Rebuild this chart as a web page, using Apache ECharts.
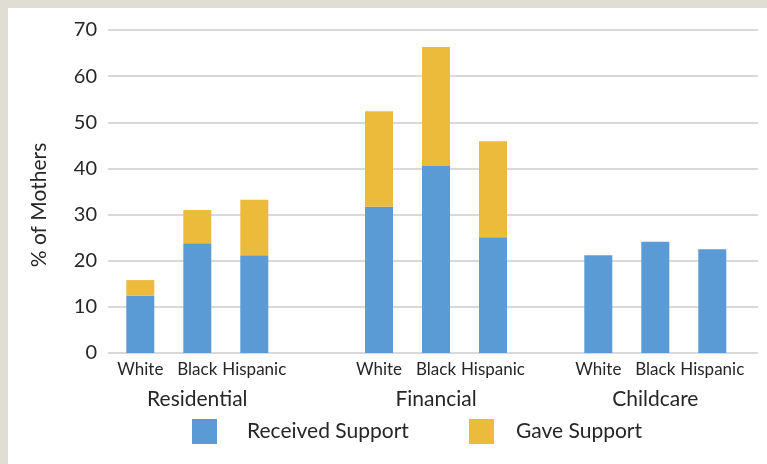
<!DOCTYPE html>
<html>
<head>
<meta charset="utf-8">
<title>Support by type</title>
<style>
  * { margin: 0; padding: 0; }
  body { background: #e0ddd3; width: 767px; height: 464px; overflow: hidden; }
  #main { position: absolute; left: 8px; top: 8px; width: 759px; height: 456px; background: #fff; }
</style>
</head>
<body>
<div id="main"></div>
<script src="https://cdn.jsdelivr.net/npm/echarts@6/dist/echarts.min.js"></script>
<script>
var races = ['White', 'Black', 'Hispanic'];
var groups = ['Residential', 'Financial', 'Childcare'];
// % of mothers, one row per group, in race order
var received = [
  [12.4, 23.8, 21.2],
  [31.7, 40.5, 25.1],
  [21.2, 24.1, 22.5]
];
var gave = [
  [3.4, 7.2, 12.0],
  [20.7, 25.8, 20.8],
  [null, null, null]
];
var yTicks = { min: 0, max: 70, interval: 10 };

var font = 'Lato, "Noto Sans", sans-serif';
var ink = '#262626';
var blue = '#5b9bd5';
var gold = '#edbb3b';

var chart = echarts.init(document.getElementById('main'));

// grid 0 only carries the value axis and its gridlines, grids 1..3 hold each group
var grids = [{ left: 100, top: 22, width: 650, height: 323 }];
var groupLefts = [103.8, 342.5, 561.8];
var xAxes = [{ gridIndex: 0, type: 'value', show: false, min: 0, max: 1 }];
var yAxes = [{
  gridIndex: 0, type: 'value', min: yTicks.min, max: yTicks.max, interval: yTicks.interval,
  axisLine: { show: false }, axisTick: { show: false },
  axisLabel: { fontSize: 20, color: ink, fontFamily: font, margin: 11 },
  splitLine: { lineStyle: { color: '#d9d9d9', width: 2 } }
}];
var series = [];

groups.forEach(function (g, i) {
  grids.push({ left: groupLefts[i], top: 22, width: 171, height: 323 });
  xAxes.push({
    gridIndex: i + 1, type: 'category', data: races,
    axisLine: { show: false }, axisTick: { show: false },
    axisLabel: { fontSize: 17, color: ink, fontFamily: font, margin: 8, interval: 0 },
    name: g, nameLocation: 'middle', nameGap: 36,
    nameTextStyle: { fontSize: 21, color: ink, fontFamily: font }
  });
  yAxes.push({ gridIndex: i + 1, type: 'value', min: yTicks.min, max: yTicks.max, show: false });
  series.push({
    name: 'Received Support', type: 'bar', stack: 's' + i, barWidth: 28,
    xAxisIndex: i + 1, yAxisIndex: i + 1, data: received[i],
    itemStyle: { color: blue }
  });
  series.push({
    name: 'Gave Support', type: 'bar', stack: 's' + i, barWidth: 28,
    xAxisIndex: i + 1, yAxisIndex: i + 1, data: gave[i],
    itemStyle: { color: gold }
  });
});

function legendAt(left, name, textGap) {
  return {
    left: left, top: 411, padding: 0, data: [name],
    itemWidth: 25, itemHeight: 25, icon: 'rect',
    textStyle: { fontSize: 21, color: ink, fontFamily: font, padding: [0, 0, 0, textGap] }
  };
}

chart.setOption({
  animation: false,
  grid: grids,
  xAxis: xAxes,
  yAxis: yAxes,
  legend: [
    legendAt(184, 'Received Support', 25),
    legendAt(461, 'Gave Support', 17)
  ],
  graphic: [{
    type: 'text', x: 31, y: 197, rotation: Math.PI / 2,
    style: {
      text: '% of Mothers', fontSize: 21, fill: ink, fontFamily: font,
      textAlign: 'center', textVerticalAlign: 'middle'
    }
  }],
  series: series
});
</script>
</body>
</html>
